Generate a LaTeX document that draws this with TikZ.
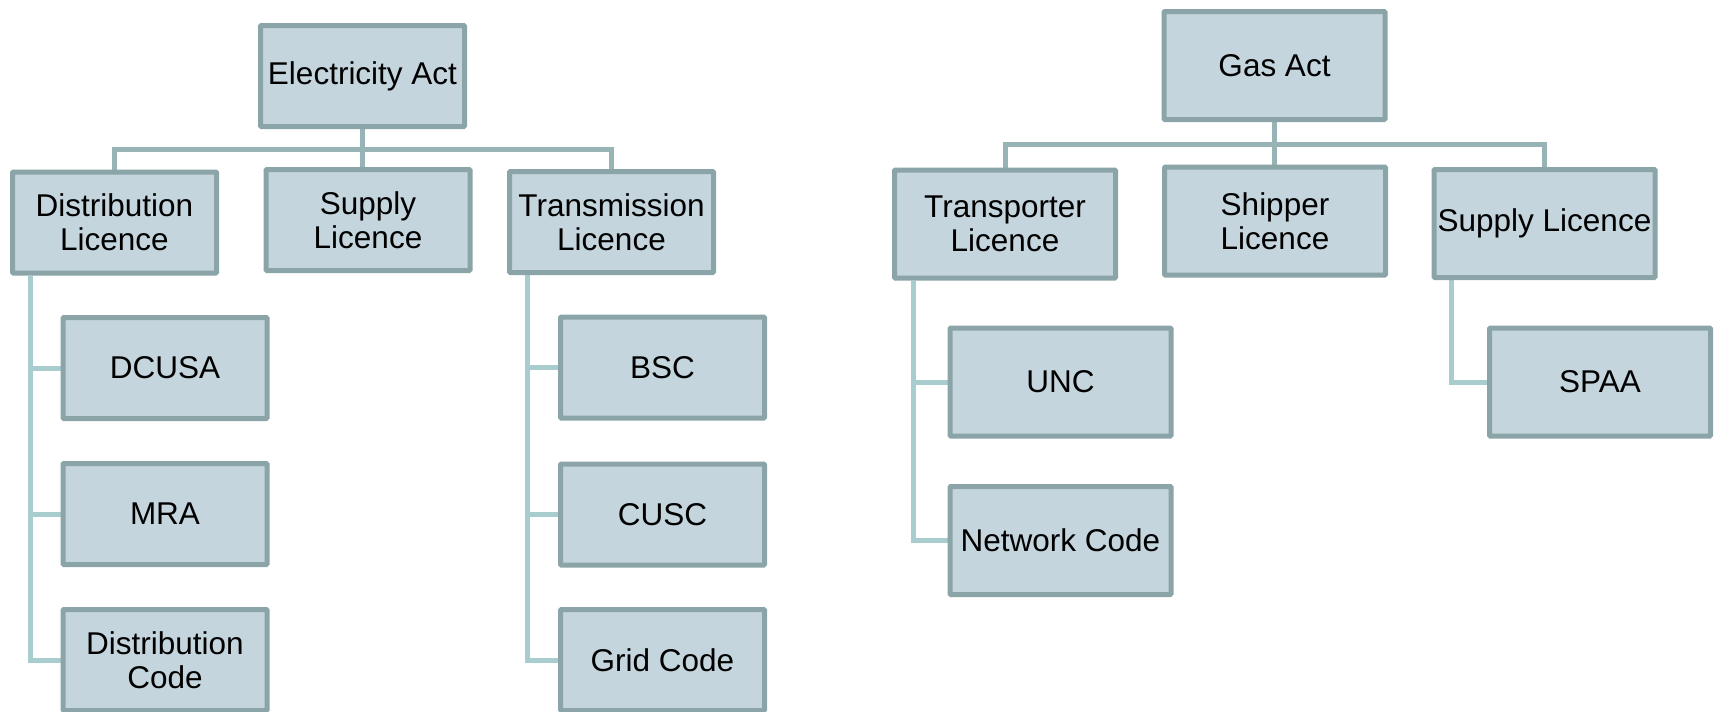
\documentclass[tikz,border=0pt]{standalone}
\usepackage{fontspec}
\setmainfont{Liberation Sans}
\usepackage{xcolor}
\usepackage{tikz}
\usetikzlibrary{positioning,backgrounds}
\definecolor{BoxFill}{HTML}{C4D5DD}
\definecolor{BoxEdge}{HTML}{8AA4A7}
\definecolor{TopLink}{HTML}{97B3B6}
\definecolor{SubLink}{HTML}{A9CCCF}

\begin{document}
\begin{tikzpicture}[
  x=1pt, y=-1pt,
  box/.style={draw=BoxEdge, fill=BoxFill, line width=5pt, rounded corners=1pt, align=center, inner sep=0pt,
    font=\fontsize{31.5}{34}\selectfont},
  ebox/.style={box, minimum width=204pt, minimum height=101pt},
  gbox/.style={box, minimum width=221pt, minimum height=108pt},
  link/.style={draw=TopLink, line width=5pt},
  sublink/.style={draw=SubLink, line width=5pt}
]
\useasboundingbox (0,0) rectangle (1716,712);

\node[ebox] (elec) at (362.5,76) {Electricity Act};
\node[ebox] (distlic) at (114.5,222.5) {Distribution\\Licence};
\node[ebox] (supplic) at (368,220) {Supply\\Licence};
\node[ebox] (translic) at (611.5,222) {Transmission\\Licence};
\node[ebox] (dcusa) at (165,368) {DCUSA};
\node[ebox] (mra) at (165,514) {MRA};
\node[ebox] (distcode) at (165,660) {Distribution\\Code};
\node[ebox] (bsc) at (662.5,367.5) {BSC};
\node[ebox] (cusc) at (662.5,514.5) {CUSC};
\node[ebox] (gridcode) at (662.5,660) {Grid Code};

\node[gbox] (gas) at (1274.5,65.5) {Gas Act};
\node[gbox] (transp) at (1005,224) {Transporter\\Licence};
\node[gbox] (shipper) at (1275,221) {Shipper\\Licence};
\node[gbox] (gsupply) at (1544.5,223.5) {Supply Licence};
\node[gbox] (unc) at (1060.5,382) {UNC};
\node[gbox] (netcode) at (1060.5,540.5) {Network Code};
\node[gbox] (spaa) at (1600,382) {SPAA};

\coordinate (ebar) at (362.5,149);
\coordinate (gbar) at (1274.5,144);

\begin{scope}[on background layer]
\draw[link] (elec.south) -- (elec.south |- supplic.north);
\draw[link] (distlic.north) |- (ebar) -| (translic.north);
\draw[link] (gas.south) -- (gas.south |- shipper.north);
\draw[link] (transp.north) |- (gbar) -| (gsupply.north);

\draw[sublink] ([xshift=20pt]distlic.south west) |- (dcusa.west);
\draw[sublink] ([xshift=20pt]distlic.south west) |- (mra.west);
\draw[sublink] ([xshift=20pt]distlic.south west) |- (distcode.west);
\draw[sublink] ([xshift=20pt]translic.south west) |- (bsc.west);
\draw[sublink] ([xshift=20pt]translic.south west) |- (cusc.west);
\draw[sublink] ([xshift=20pt]translic.south west) |- (gridcode.west);
\draw[sublink] ([xshift=21pt]transp.south west) |- (unc.west);
\draw[sublink] ([xshift=21pt]transp.south west) |- (netcode.west);
\draw[sublink] ([xshift=20pt]gsupply.south west) |- (spaa.west);
\end{scope}
\end{tikzpicture}
\end{document}
